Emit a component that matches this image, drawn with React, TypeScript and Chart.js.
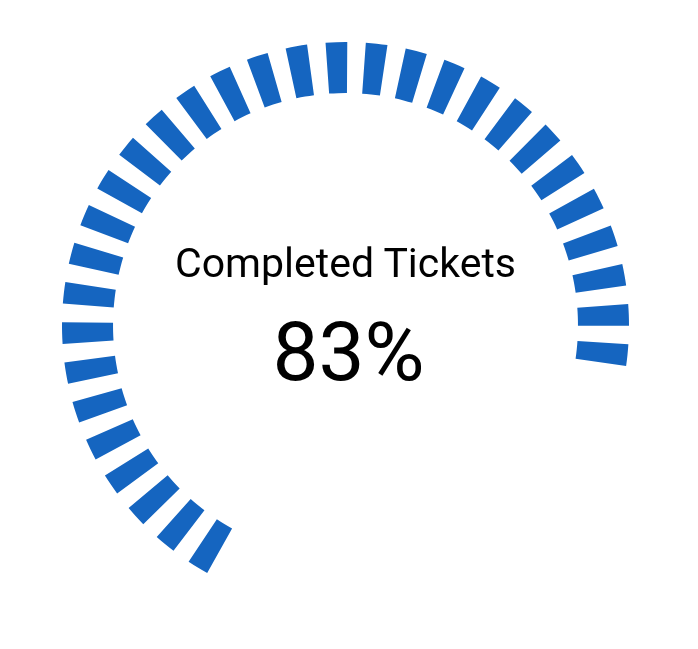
import React, { useEffect, useRef } from "react";
import { Chart, registerables } from "chart.js";

Chart.register(...registerables);

// ---- data ----
const VALUE_PERCENT = 83;
const LABEL = "Completed Tickets";
const GAUGE_START_DEG = -150;
const GAUGE_SPAN_DEG = 300;
const DASH_COUNT = 31;

// ---- style ----
const BAR_COLOR = "#1565C0";
const DASH_DEG = 4.4;
const ROTATION_NUDGE = -0.8;

function buildSegments() {
  const filled = (GAUGE_SPAN_DEG * VALUE_PERCENT) / 100;
  const gap = (filled - DASH_COUNT * DASH_DEG) / (DASH_COUNT - 1);
  const values: number[] = [];
  const colors: string[] = [];
  for (let i = 0; i < DASH_COUNT; i++) {
    values.push(DASH_DEG);
    colors.push(BAR_COLOR);
    if (i < DASH_COUNT - 1) {
      values.push(gap);
      colors.push("rgba(0,0,0,0)");
    }
  }
  values.push(360 - filled);
  colors.push("rgba(0,0,0,0)");
  return { values, colors };
}

export default function App() {
  const canvasRef = useRef<HTMLCanvasElement | null>(null);

  useEffect(() => {
    if (!canvasRef.current) return;
    const { values, colors } = buildSegments();
    const chart = new Chart(canvasRef.current, {
      type: "doughnut",
      data: {
        labels: values.map((_, i) => String(i)),
        datasets: [
          {
            data: values,
            backgroundColor: colors,
            borderWidth: 0,
            hoverOffset: 0,
          },
        ],
      },
      options: {
        animation: false,
        responsive: true,
        maintainAspectRatio: false,
        rotation: GAUGE_START_DEG + ROTATION_NUDGE,
        circumference: 360,
        cutout: "82%",
        layout: { padding: { left: 54, top: 34, right: 61, bottom: 32 } },
        plugins: {
          legend: { display: false },
          tooltip: { enabled: false },
        },
        events: [],
      },
    });
    return () => chart.destroy();
  }, []);

  return (
    <div style={{ position: "relative", width: 682, height: 633, background: "#fff" }}>
      <canvas ref={canvasRef} />
      <div
        style={{
          position: "absolute",
          left: 0,
          width: 675,
          top: 235,
          textAlign: "center",
          fontFamily: "Roboto, sans-serif",
          fontSize: 41,
          lineHeight: "41px",
          color: "#000",
          whiteSpace: "nowrap",
        }}
      >
        {LABEL}
      </div>
      <div
        style={{
          position: "absolute",
          left: 0,
          width: 681,
          top: 303,
          textAlign: "center",
          fontFamily: "Roboto, sans-serif",
          fontSize: 82,
          lineHeight: "82px",
          color: "#000",
          whiteSpace: "nowrap",
        }}
      >
        {VALUE_PERCENT}%
      </div>
    </div>
  );
}
